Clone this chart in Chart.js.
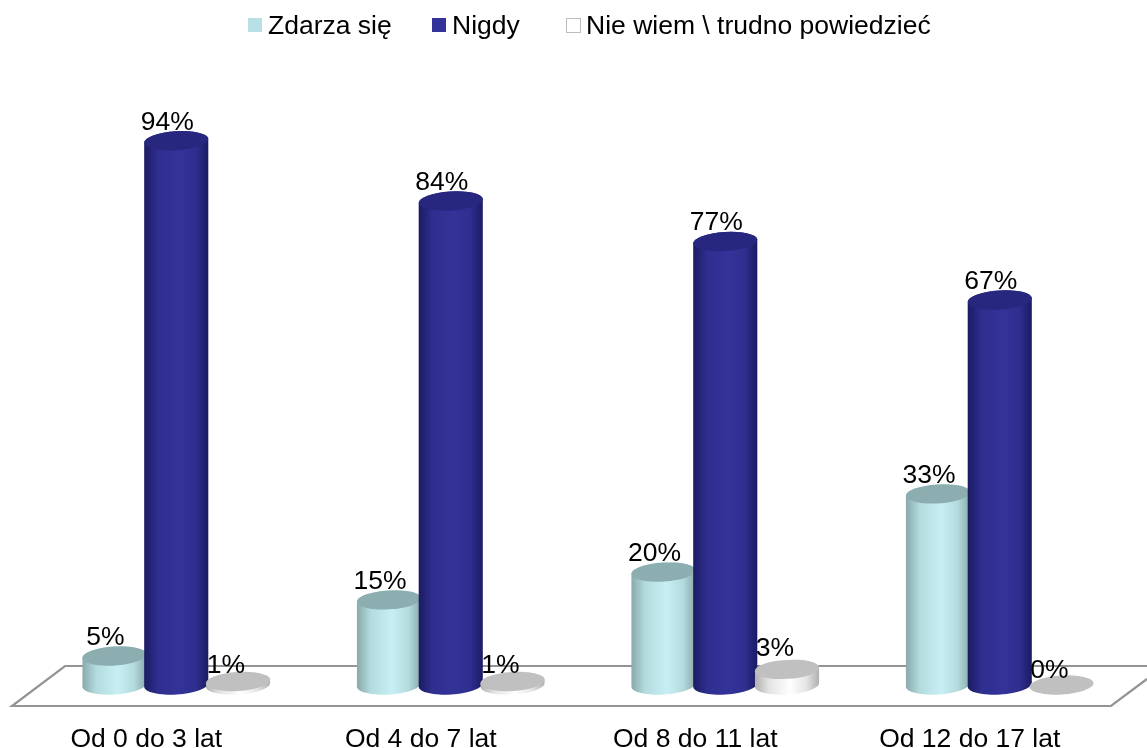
<!DOCTYPE html>
<html><head><meta charset="utf-8">
<style>html,body{margin:0;padding:0;background:#fff}canvas{display:block}</style>
<script src="https://cdn.jsdelivr.net/npm/chart.js@4"></script>
</head><body><canvas id="c" width="1147" height="748"></canvas>
<script>
const categories = ["Od 0 do 3 lat","Od 4 do 7 lat","Od 8 do 11 lat","Od 12 do 17 lat"];
const seriesNames = ["Zdarza się","Nigdy","Nie wiem \\ trudno powiedzieć"];
const zdarzaSie = [5,14.7,19.5,33];
const nigdy = [94,83.6,76.6,66.5];
const nieWiem = [0.6,0.6,2.7,0];
const legendX = [248,432,566];
const swatch = ["#b9e0e4","#333399","#ffffff"];
const edgeCol = ["#8aa9aa","#1b1b63","#b0b0b0"];
const shoulderCol = ["#b4dcdf","#2f2f90","#e4e4e4"];
const midCol = ["#c8f0f4","#333399","#ffffff"];
const capCol = ["#8caeb0","#27277f","#c0c0c0"];
const FONT = '26.5px "Liberation Sans"';
const ROT = -3.5*Math.PI/180, RY = 9.5;

const cylinders = {
  id:'cylinders',
  beforeDraw(ch){
    const {ctx,chartArea:a,scales:{y}} = ch, y0=y.getPixelForValue(0);
    ctx.save();
    ctx.fillStyle='#fff';ctx.fillRect(0,0,ch.width,ch.height);
    ctx.strokeStyle='#949494';ctx.lineWidth=2.2;ctx.lineJoin='miter';
    ctx.beginPath();
    ctx.moveTo(ch.width+2,y0-19);ctx.lineTo(a.left+26,y0-19);ctx.lineTo(a.left-27,y0+21);
    ctx.lineTo(a.right-26,y0+21);ctx.lineTo(a.right+10,y0-6);
    ctx.stroke();
    ctx.textBaseline='alphabetic';ctx.font=FONT;
    seriesNames.forEach((n,i)=>{
      ctx.fillStyle=swatch[i];ctx.fillRect(legendX[i],18,14,14);
      if(i==2){ctx.strokeStyle='#bdbdbd';ctx.lineWidth=1;ctx.strokeRect(legendX[i]+.5,18.5,14,14);}
      ctx.fillStyle='#000';ctx.fillText(n,legendX[i]+20,34);
    });
    ctx.restore();
  },
  beforeDatasetDraw(){ return false; },
  afterDatasetsDraw(ch){
    const ctx=ch.ctx;
    ch.data.datasets.forEach((d,i)=>ch.getDatasetMeta(i).data.forEach(b=>{
      const w=b.width/2,g=ctx.createLinearGradient(b.x-w,0,b.x+w,0);
      g.addColorStop(0,edgeCol[i]);g.addColorStop(.22,shoulderCol[i]);
      g.addColorStop(.55,midCol[i]);g.addColorStop(.8,shoulderCol[i]);g.addColorStop(1,edgeCol[i]);
      ctx.save();
      if(b.base-b.y>0.5){
        ctx.beginPath();
        ctx.ellipse(b.x,b.base,w,RY,ROT,0,Math.PI);
        ctx.ellipse(b.x,b.y,w,RY,ROT,Math.PI,0);
        ctx.closePath();ctx.fillStyle=g;ctx.fill();
      }
      ctx.beginPath();ctx.ellipse(b.x,b.y,w,RY,ROT,0,Math.PI*2);
      ctx.fillStyle=capCol[i];ctx.fill();
      ctx.restore();
    }));
    ctx.save();ctx.font=FONT;ctx.fillStyle='#000';ctx.textAlign='center';ctx.textBaseline='alphabetic';
    ch.data.datasets.forEach((d,i)=>ch.getDatasetMeta(i).data.forEach((b,j)=>{
      const v=d.data[j], rise=v<5?Math.min(13,7+3*v):11, dx=i==2?-12:-9;
      ctx.fillText(Math.round(v)+'%',b.x+dx,b.y-rise);
    }));
    ctx.restore();
  }
};

new Chart(document.getElementById('c'),{
  type:'bar',
  data:{labels:categories,datasets:[
    {label:seriesNames[0],data:zdarzaSie,backgroundColor:swatch[0]},
    {label:seriesNames[1],data:nigdy,backgroundColor:swatch[1]},
    {label:seriesNames[2],data:nieWiem,backgroundColor:swatch[2]}
  ]},
  options:{
    responsive:false,animation:false,
    categoryPercentage:.675,barPercentage:1.04,
    layout:{padding:{left:39,right:10,top:106,bottom:0}},
    plugins:{legend:{display:false},tooltip:{enabled:false}},
    scales:{
      y:{display:false,min:0,max:100},
      x:{grid:{display:false,drawTicks:false},border:{display:false},
         afterFit(s){s.height=63;},
         ticks:{font:{family:'Liberation Sans',size:26.5},color:'#000',padding:39,labelOffset:-30,maxRotation:0,autoSkip:false}}
    }
  },
  plugins:[cylinders]
});
</script></body></html>
